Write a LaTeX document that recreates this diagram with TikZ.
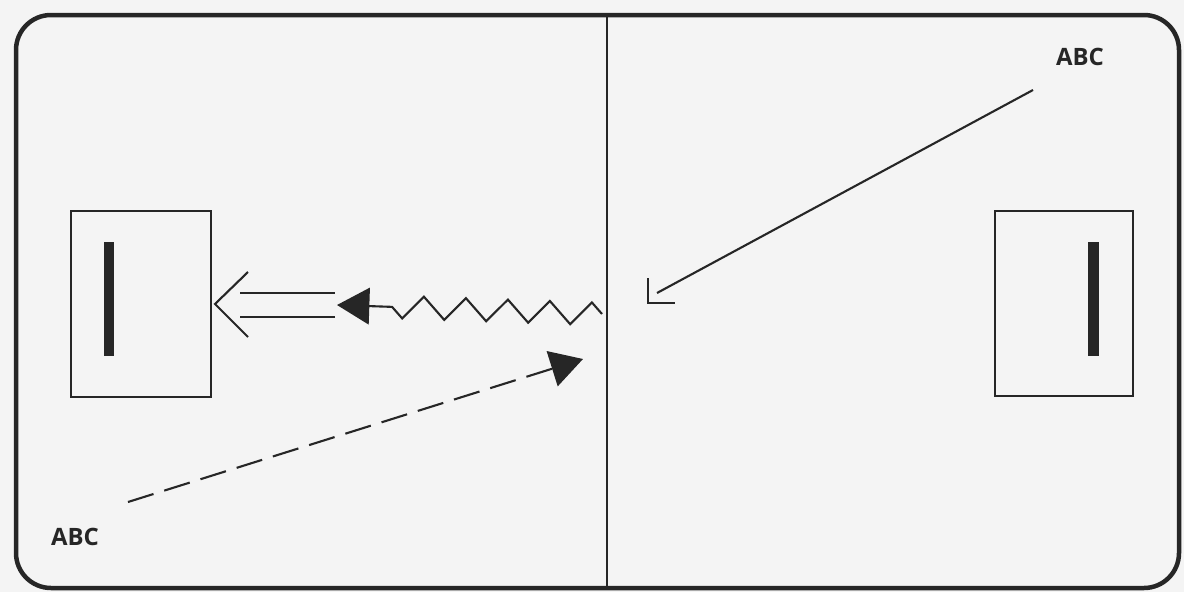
\documentclass[tikz,border=0pt]{standalone}
\usepackage{fontspec}
\setsansfont{Open Sans}
\usepackage{tikz}
\usetikzlibrary{
    arrows.meta,
    decorations.pathmorphing
}
\definecolor{PaperGray}{RGB}{244,244,244}
\definecolor{InkGray}{RGB}{38,38,38}
\tikzset{
  frame/.style = {draw=InkGray, line width=3.2pt, rounded corners=0.875cm},
  slot/.style  = {draw=InkGray, line width=1.6pt, minimum width=3.5cm,
                  minimum height=4.65cm, inner sep=0pt},
  bar/.style   = {fill=InkGray, minimum width=0.27cm,
                  minimum height=2.85cm, inner sep=0pt},
  lbl/.style   = {font=\sffamily\bfseries\fontsize{17}{20}\selectfont,
                  text=InkGray, inner sep=0pt},
  arr/.style   = {InkGray, line width=1.5pt},
  tip/.style   = {-{Triangle[length=23pt, width=26pt]}}
}

\begin{document}
\begin{tikzpicture}[x=0.025cm, y=-0.025cm]
\fill[PaperGray] (0,0) rectangle (1184,592);
\coordinate (divTop) at (607,15);
\coordinate (divBot) at (607,588);
\draw[InkGray, line width=1.4pt] (divTop) -- (divBot);
\draw[frame] (16,15) rectangle (1179,588);

% the two slots
\node[slot] (slotL) at (141,304) {};
\node[bar] (barL) at (109,299) {};
\node[slot, minimum width=3.45cm, minimum height=4.625cm] (slotR) at (1064,303.5) {};
\node[bar] (barR) at (1093.5,299) {};

\node[lbl] (abcTop) at (1080,57) {ABC};
\node[lbl] (abcBot) at (75,537) {ABC};

% ray from the right
\coordinate (rayA) at (1033,90);
\coordinate (rayB) at (657,293);
\coordinate (rayC) at (648,303);
\draw[arr] (rayA) -- (rayB);
\draw[arr, line width=2pt] (rayC) ++(0,-25) |- ++(27,25);

% zigzag and double arrow
\coordinate (zigA) at (602,314);
\coordinate (zigB) at (337,305);
\draw[arr, tip, decorate, decoration={zigzag, mirror, segment length=1.05cm,
      amplitude=0.28cm, post length=1.25cm}] (zigA) -- (zigB);
\coordinate (dblA) at (335,305);
\coordinate (dblB) at (240,305);
\draw[arr, double=PaperGray, double distance=15.5pt] (dblA) -- (dblB);
\coordinate (dblTip) at (215,304);
\draw[arr] (dblTip) ++(33,-32) -- (dblTip) -- ++(33,33);

% dashed arrow
\coordinate (dashA) at (128,502);
\coordinate (dashB) at (583,359);
\draw[arr, tip, dash pattern=on 19pt off 8pt] (dashA) -- (dashB);
\end{tikzpicture}
\end{document}
